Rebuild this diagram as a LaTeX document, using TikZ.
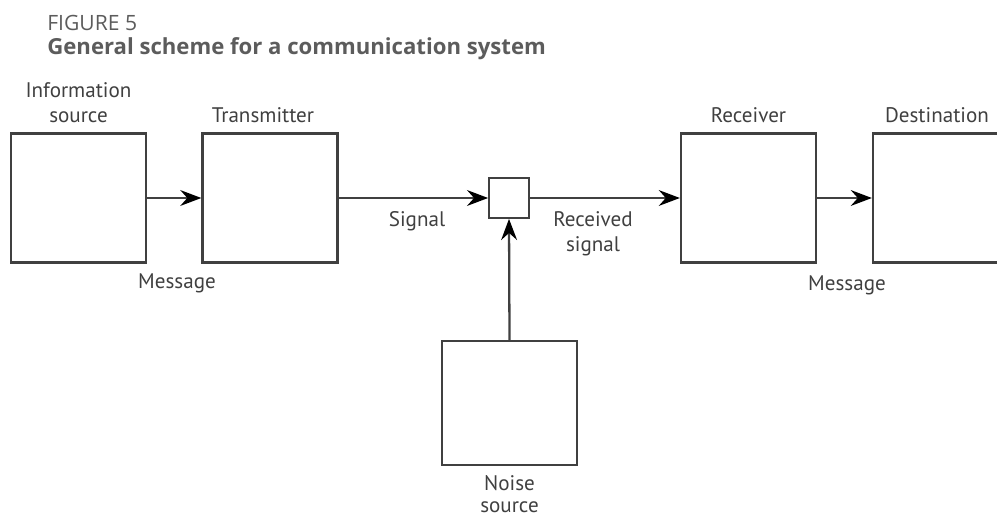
\documentclass[tikz,border=0pt]{standalone}
\usepackage{fontspec}
\setmainfont{PT Sans}
\newfontfamily\titlefont{Open Sans}
\usetikzlibrary{positioning, arrows.meta}
\definecolor{titlegray}{HTML}{5C5C5C}
\definecolor{linegray}{HTML}{404040}

\begin{document}
\begin{tikzpicture}[x=0.02cm, y=-0.02cm,
  every node/.style={font=\fontsize{12}{14.5}\selectfont, text=linegray, inner sep=1pt},
  block/.style={draw=linegray, line width=1.3pt, minimum width=2.7cm, minimum height=2.58cm, inner sep=0pt},
  flow/.style={draw=linegray, line width=1.3pt, -{Stealth[length=12pt, width=9pt, inset=4pt, black]}}]
\useasboundingbox (0,0) rectangle (997,520);
\clip (0,0) rectangle (997,520);

% title
\node[anchor=base west, inner sep=0pt, text=titlegray, font=\titlefont\fontsize{12}{14}\selectfont] (fignum) at (47,31) {FIGURE 5};
\node[anchor=base west, inner sep=0pt, text=titlegray, font=\titlefont\bfseries\fontsize{12.6}{15}\selectfont] (figtitle) at (47,55) {General scheme for a communication system};

% blocks
\node[block] (infosrc) at (78.5,198) {};
\node[block] (trans) at (270,198) {};
\node[draw=linegray, line width=1.3pt, minimum size=0.79cm, inner sep=0pt] (adder) at (509,198) {};
\node[block] (rec) at (748.5,198) {};
\node[block] (dest) at (940.5,198) {};
\node[block, minimum height=2.48cm] (noise) at (509.5,403) {};

% block names
\node[above=4pt of infosrc, align=center] (infolbl) {Information\\source};
\node[above=4pt of trans, xshift=-4pt] (translbl) {Transmitter};
\node[above=4pt of rec] (reclbl) {Receiver};
\node[above=4pt of dest, xshift=-2pt] (destlbl) {Destination};
\node[below=4pt of noise, align=center, font=\fontsize{12}{12.5}\selectfont] (noiselbl) {Noise\\source};

% connectors
\draw[flow] (infosrc.east) -- (trans.west);
\draw[flow] (trans.east) -- (adder.west);
\draw[flow] (adder.east) -- (rec.west);
\draw[flow] (rec.east) -- (dest.west);
\draw[flow] (noise.north) -- (adder.south);

% connector labels
\node (msgin) at (177,283) {Message};
\node (signal) at (417,221) {Signal};
\node[align=center] (recsig) at (593,234) {Received\\signal};
\node (msgout) at (847,285) {Message};
\end{tikzpicture}
\end{document}
